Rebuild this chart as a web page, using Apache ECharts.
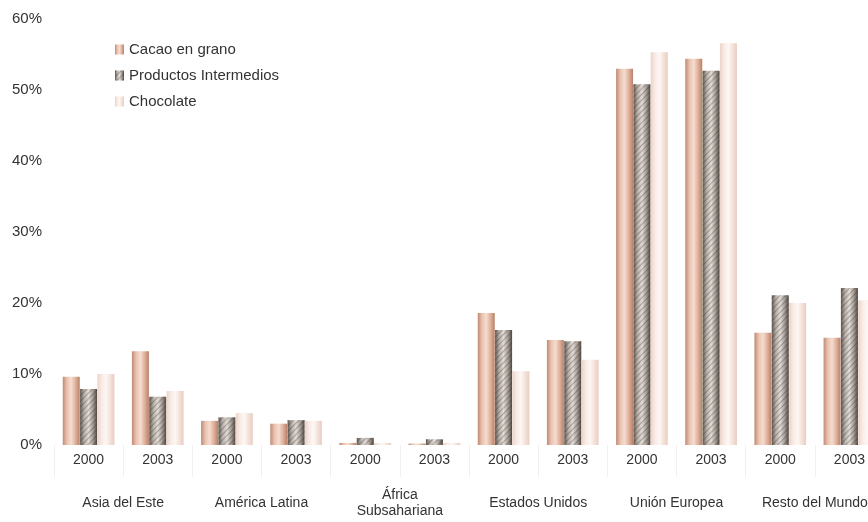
<!DOCTYPE html>
<html>

<head>
    <meta charset="utf-8">
    <title>Cacao trade shares</title>
    <script src="https://cdn.jsdelivr.net/npm/echarts@6/dist/echarts.min.js"></script>
    <style>
        body { margin: 0; background: #fff; }
        #chart { width: 868px; height: 522px; }
    </style>
</head>

<body>
    <div id="chart"></div>

    <script type="text/javascript">
        // data (percent)
        var years = ['2000', '2003', '2000', '2003', '2000', '2003', '2000', '2003', '2000', '2003', '2000', '2003'];
        var regions = ['Asia del Este', 'América Latina', 'África\nSubsahariana', 'Estados Unidos', 'Unión Europea', 'Resto del Mundo'];
        var seriesNames = ['Cacao en grano', 'Productos Intermedios', 'Chocolate'];
        var cacao = [9.6, 13.2, 3.4, 3.0, 0.3, 0.2, 18.6, 14.8, 53.0, 54.4, 15.8, 15.1];
        var intermedios = [7.9, 6.8, 3.9, 3.5, 1.0, 0.8, 16.2, 14.6, 50.8, 52.7, 21.1, 22.1];
        var chocolate = [10.0, 7.6, 4.5, 3.4, 0.3, 0.3, 10.4, 12.0, 55.3, 56.6, 20.0, 20.4];

        function grad(stops) {
            return new echarts.graphic.LinearGradient(0, 0, 1, 0, stops.map(function (c, i) {
                return { offset: i / (stops.length - 1), color: c };
            }));
        }

        var chart = echarts.init(document.getElementById('chart'), null, { renderer: 'canvas' });
        var font = 'Liberation Sans';

        chart.setOption({
            animation: false,
            legend: {
                orient: 'vertical',
                left: 110,
                top: 37,
                itemWidth: 9,
                itemHeight: 10,
                itemGap: 11,
                icon: 'rect',
                textStyle: { fontFamily: font, fontSize: 15, color: '#333' },
                data: seriesNames
            },
            grid: { left: 54, top: 19, width: 830, bottom: 77, outerBoundsMode: 'none' },
            xAxis: [{
                type: 'category',
                data: years,
                axisLine: { show: false },
                axisTick: { show: true, interval: 0, length: 32, lineStyle: { color: '#f0f0f0' } },
                axisLabel: { margin: 8, interval: 0, fontFamily: font, fontSize: 14, color: '#333' }
            }, {
                type: 'category',
                data: regions,
                position: 'bottom',
                axisLine: { show: false },
                axisTick: { show: false },
                axisLabel: {
                    margin: 58, interval: 0, verticalAlign: 'middle', lineHeight: 16,
                    fontFamily: font, fontSize: 14, color: '#333'
                }
            }],
            yAxis: {
                type: 'value',
                min: 0,
                max: 60,
                interval: 10,
                splitLine: { show: false },
                axisLine: { show: false },
                axisTick: { show: false },
                axisLabel: { margin: 12, formatter: '{value}%', fontFamily: font, fontSize: 15, color: '#333' }
            },
            series: [{
                name: seriesNames[0],
                type: 'bar',
                data: cacao,
                barWidth: 17,
                barGap: '2%',
                itemStyle: { color: grad(['#c08a74', '#e9c3b0', '#f6dccf', '#deb29c', '#b98068']) }
            }, {
                name: seriesNames[1],
                type: 'bar',
                data: intermedios,
                barWidth: 17,
                itemStyle: {
                    color: grad(['#5f5751', '#b9b1aa', '#e3ddd7', '#a79e97', '#4f4843']),
                    decal: {
                        symbol: 'rect',
                        symbolSize: 1,
                        dashArrayX: [[1, 0]],
                        dashArrayY: [1, 3],
                        rotation: -Math.PI / 4,
                        color: 'rgba(60,50,45,0.35)'
                    }
                }
            }, {
                name: seriesNames[2],
                type: 'bar',
                data: chocolate,
                barWidth: 17,
                itemStyle: { color: grad(['#ecd3c8', '#f8ebe5', '#fdf7f4', '#f4e2da', '#e8cdc1']) }
            }]
        });
    </script>
</body>

</html>
